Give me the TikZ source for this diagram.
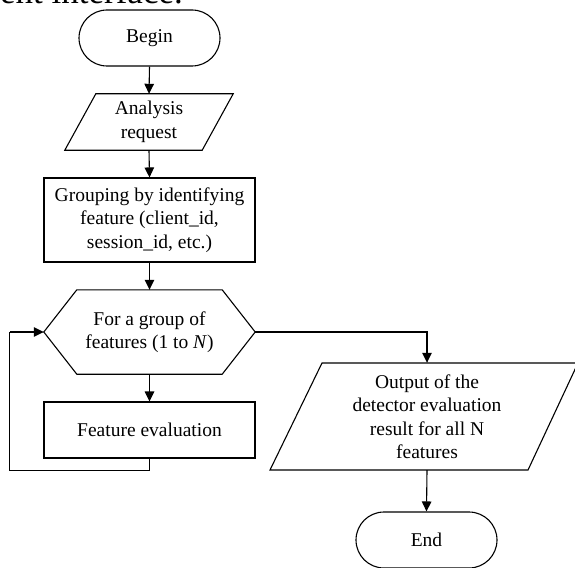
\documentclass[tikz,border=0pt]{standalone}
\usepackage{fontspec}
\setmainfont{Liberation Serif}
\usetikzlibrary{arrows.meta,calc}
\begin{document}
\begin{tikzpicture}[x=1pt,y=-1pt,
  every node/.style={font=\fontsize{19.5}{23.5}\selectfont, align=center, inner sep=0pt},
  box/.style={draw, line width=1.1pt, minimum width=211pt},
  term/.style={draw, line width=1.1pt, rounded corners=28pt, minimum width=141pt, minimum height=56pt},
  ghost/.style={draw=none},
  outline/.style={draw, line width=1.1pt, line join=miter},
  arr/.style={line width=1.1pt, -{Triangle[length=10pt,width=9.5pt]}},
  link/.style={line width=1.1pt}]
\useasboundingbox (0,0) rectangle (575,567);
\clip (0,0) rectangle (575,567);

\node[anchor=base east, font=\fontsize{35}{40}\selectfont] (top) at (183,3.5) {client interface.};

\node[term] (begin) at (149.5,38) {Begin};

\node[ghost, minimum width=168pt, minimum height=56pt] (req) at (149,122) {Analysis\\request};
\draw[outline] ($(req.north west)+(31,0)$) -- (req.north east) -- ($(req.south east)+(-31,0)$) -- (req.south west) -- cycle;

\node[box, minimum height=84pt] (grp) at (149.5,220) {Grouping by identifying\\feature (client\_id,\\session\_id, etc.)};

\node[ghost, minimum width=211pt, minimum height=84pt] (loop) at (149.5,332) {For a group of\\features (1 to \textit{N})};
\draw[outline] (loop.west) -- ($(loop.north west)+(33,0)$) -- ($(loop.north east)+(-33,0)$) -- (loop.east) -- ($(loop.south east)+(-33,0)$) -- ($(loop.south west)+(33,0)$) -- cycle;

\node[box, minimum height=56pt] (eval) at (149.5,430) {Feature evaluation};

\node[ghost, minimum width=200pt, minimum height=107pt] (out) at (427,416.5) {Output of the\\detector evaluation\\result for all N\\features};
\draw[outline] ($(out.center)+(-157,53.5)$) -- ($(out.center)+(-105,-53.5)$) -- ($(out.center)+(151,-53.5)$) -- ($(out.center)+(101,53.5)$) -- cycle;

\node[term] (end) at (426.5,540) {End};

\coordinate (back) at ($(loop.west)+(-34,0)$);

\draw[arr] (begin.south) -- (req.north);
\draw[arr] (req.south) -- (grp.north);
\draw[arr] (grp.south) -- (loop.north);
\draw[arr] (loop.south) -- (eval.north);
\draw[link] (eval.south) -- ++(0,12) -| (back);
\draw[arr] (back) -- (loop.west);
\draw[arr] (loop.east) -| (out.north);
\draw[arr] (out.south) -- (end.north);
\end{tikzpicture}
\end{document}
